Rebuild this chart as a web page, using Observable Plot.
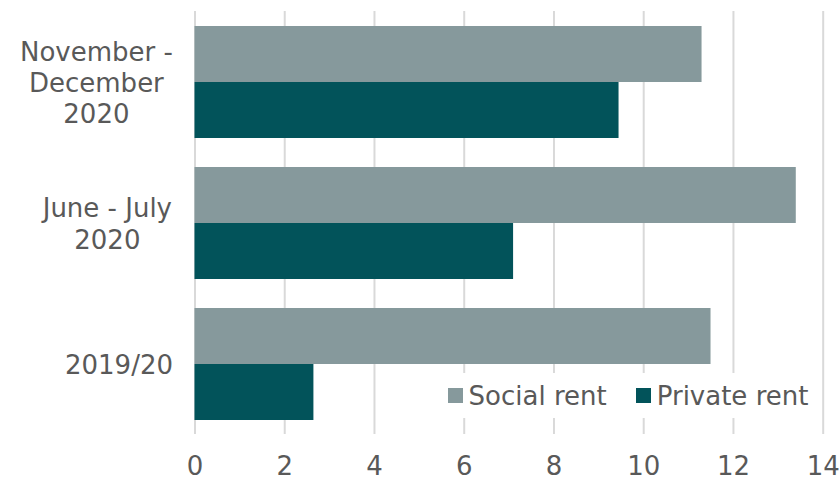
<!DOCTYPE html>
<html>
<head>
<meta charset="utf-8">
<script src="https://cdn.jsdelivr.net/npm/d3@7"></script>
<script src="https://cdn.jsdelivr.net/npm/@observablehq/plot@0.6"></script>
<style>
  html, body { margin: 0; padding: 0; background: #fff; }
  #wrap { position: relative; width: 839px; height: 480px; font-family: "DejaVu Sans", sans-serif; }
  #legend { position: absolute; left: 444px; top: 373px; width: 368px; height: 45px; background: #fff;
            display: flex; align-items: center; justify-content: center; gap: 29px; color: #595959; font-size: 26px; }
  .item { display: flex; align-items: center; gap: 6px; white-space: nowrap; }
  .sw { width: 15px; height: 15px; display: inline-block; }
</style>
</head>
<body>
<div id="wrap"></div>
<script>
const categories = ["November - December 2020", "June - July 2020", "2019/20"];
const categoryLabels = ["November -\nDecember\n2020", "June - July\n2020", "2019/20"];
const series = ["Social rent", "Private rent"];
const socialRent = [11.3, 13.4, 11.5];
const privateRent = [9.45, 7.1, 2.65];
const xTicks = [0, 2, 4, 6, 8, 10, 12, 14];
const colors = ["#86999c", "#02535a"];

const data = categories.flatMap((c, i) => [
  {category: c, series: series[0], value: socialRent[i]},
  {category: c, series: series[1], value: privateRent[i]}
]);

const chart = Plot.plot({
  width: 839,
  height: 480,
  marginTop: 10,
  marginBottom: 45,
  marginLeft: 194.5,
  marginRight: 16.3,
  style: {fontFamily: "DejaVu Sans", fontSize: "26px", color: "#595959", background: "white"},
  x: {domain: [0, 14], axis: null},
  y: {domain: series, paddingInner: 0, paddingOuter: 0.246, axis: null},
  fy: {domain: categories, padding: 0, axis: null},
  color: {domain: series, range: colors},
  marks: [
    Plot.gridX(xTicks, {stroke: "#d9d9d9", strokeOpacity: 1, strokeWidth: 2}),
    Plot.barX(data, {fy: "category", y: "series", x: "value", fill: "series"}),
    Plot.axisX(xTicks, {tickSize: 0, tickPadding: 22, fontSize: 26, label: null, fill: "#595959"}),
    Plot.axisFy({anchor: "left", tickSize: 0, tickPadding: 22, fontSize: 26, label: null, lineHeight: 1.2, fill: "#595959",
      tickFormat: d => categoryLabels[categories.indexOf(d)]})
  ]
});

const wrap = document.getElementById("wrap");
wrap.appendChild(chart);

// center multi-line category labels within their own block (block right-aligned)
d3.select(chart).selectAll('g[aria-label="fy-axis tick label"] text').each(function() {
  const w = this.getBBox().width;
  const t = this.getAttribute("transform") || "";
  this.setAttribute("transform", t + ` translate(${-w / 2},0)`);
  this.setAttribute("text-anchor", "middle");
});

const legend = d3.select(wrap).append("div").attr("id", "legend");
series.forEach((s, i) => {
  const item = legend.append("div").attr("class", "item");
  item.append("span").attr("class", "sw").style("background", colors[i]);
  item.append("span").text(s);
});
</script>
</body>
</html>
